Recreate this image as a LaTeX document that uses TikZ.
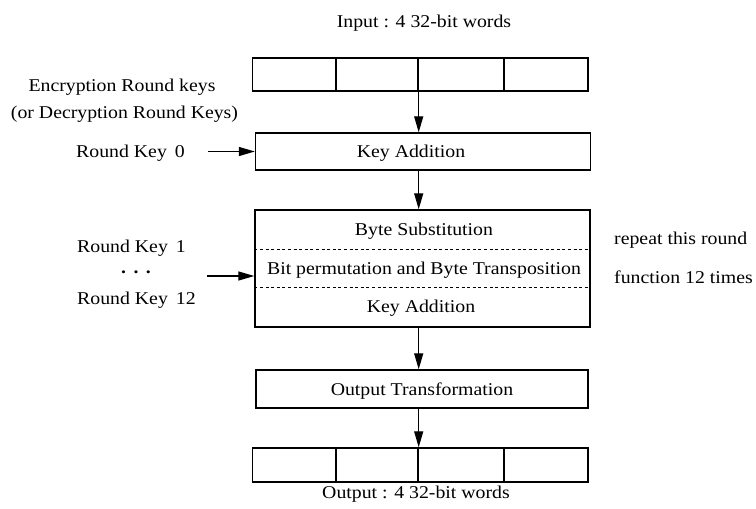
\documentclass[tikz,border=0pt]{standalone}
\usepackage{fontspec}
\setmainfont[FakeStretch=1.1]{Liberation Serif}
\usetikzlibrary{arrows.meta}
\begin{document}
\begin{tikzpicture}[x=1pt,y=-1pt,
  font=\fontsize{18}{22}\selectfont,
  cell/.style={draw,line width=1.4pt,rectangle,inner sep=0pt,minimum height=33pt},
  box/.style={draw,line width=1.4pt,rectangle,inner sep=0pt,text height=12pt,text depth=0pt},
  txt/.style={inner sep=0pt,anchor=base},
  lft/.style={inner sep=0pt,anchor=base west},
  arr/.style={line width=1.3pt,-{Triangle[length=16pt,width=9pt]}},
  sep/.style={line width=0.9pt,dash pattern=on 3pt off 2.6pt}]
\useasboundingbox (0,0) rectangle (756,509);

% input array
\node[cell,minimum width=83.5pt] (in1) at (294.25,74.5) {};
\node[cell,minimum width=82pt] (in2) at (377,74.5) {};
\node[cell,minimum width=86pt] (in3) at (461,74.5) {};
\node[cell,minimum width=84pt] (in4) at (546,74.5) {};
\node[txt] (inlbl) at (424,27) {Input : 4 32-bit words};

% key addition
\node[box,minimum width=335pt,minimum height=37pt] (ka) at (423,151.5) {};
\node[txt] (katxt) at (411,157) {Key Addition};

% round function
\node[box,minimum width=335pt,minimum height=117pt] (rnd) at (422.5,268.5) {};
\node[txt] (bs) at (424,235) {Byte Substitution};
\node[txt] (bp) at (424,274) {Bit permutation and Byte Transposition};
\node[txt] (ka2) at (421,312) {Key Addition};
\draw[sep] (rnd.west |- 0,249) -- (rnd.east |- 0,249);
\draw[sep] (rnd.west |- 0,287) -- (rnd.east |- 0,287);

% output transformation
\node[box,minimum width=332pt,minimum height=38pt] (ot) at (422,389) {Output Transformation};

% output array
\node[cell,minimum width=83.5pt,minimum height=34pt] (out1) at (294.25,465) {};
\node[cell,minimum width=82pt,minimum height=34pt] (out2) at (377,465) {};
\node[cell,minimum width=86pt,minimum height=34pt] (out3) at (461,465) {};
\node[cell,minimum width=84pt,minimum height=34pt] (out4) at (546,465) {};
\node[txt] (outlbl) at (416,498) {Output : 4 32-bit words};

% vertical arrows
\draw[arr] (in2.south east) -- (in2.south east |- ka.north);
\draw[arr] (in2.south east |- ka.south) -- (in2.south east |- rnd.north);
\draw[arr] (in2.south east |- rnd.south) -- (in2.south east |- ot.north);
\draw[arr] (in2.south east |- ot.south) -- (out2.north east);

% left labels
\node[txt] (enc) at (122,91) {Encryption Round keys};
\node[txt] (dec) at (124.5,118) {(or Decryption Round Keys)};
\node[lft] (rk0) at (76,157) {Round Key \,0};
\node[lft] (rk1) at (77,252) {Round Key \,1};
\node[txt] (dots) at (136,273) {\textbf{.}\hspace{7.5pt}\textbf{.}\hspace{7.5pt}\textbf{.}};
\node[lft] (rk12) at (77,304) {Round Key \,12};

\coordinate (a0) at (208,151.5);
\coordinate (a1) at (207,276);
\draw[arr] (a0) -- (a0 -| ka.west);
\draw[arr] (a1) -- (a1 -| rnd.west);

% right labels
\node[lft] (rep1) at (614,244) {repeat this round};
\node[lft] (rep2) at (614,283) {function 12 times};
\end{tikzpicture}
\end{document}
